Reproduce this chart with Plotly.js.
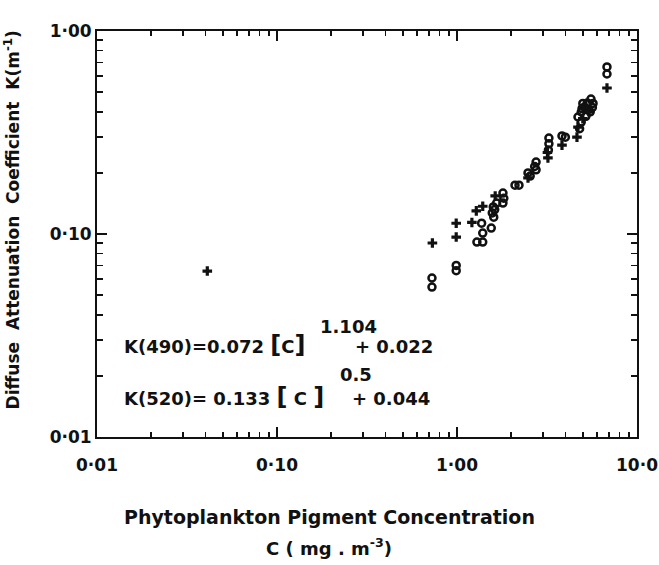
<!DOCTYPE html>
<html>
<head>
<meta charset="utf-8">
<script src="https://cdn.plot.ly/plotly-3.0.1.min.js"></script>
<style>html,body{margin:0;padding:0;background:#fff;}#chart{width:659px;height:565px;}</style>
</head>
<body>
<div id="chart"></div>
<script>
// Data (log-log)
var plusX = [0.041, 0.73, 0.99, 0.99, 1.21, 1.28, 1.39, 1.63, 2.48, 3.20, 3.18, 3.83, 4.64, 4.70, 5.00, 5.40, 6.81];
var plusY = [0.0657, 0.0903, 0.113, 0.0966, 0.114, 0.130, 0.137, 0.154, 0.189, 0.237, 0.252, 0.274, 0.300, 0.336, 0.370, 0.400, 0.524];

var circX = [0.726, 0.726, 0.99, 0.99, 1.37, 1.39, 1.29, 1.39, 1.55, 1.59, 1.57, 1.62, 1.66, 1.60, 1.80, 1.82, 1.80, 2.10, 2.21, 2.48, 2.55, 2.75, 2.75, 2.70, 3.24, 3.24, 3.22, 3.83, 4.00, 5.55, 5.30, 5.10, 4.95, 4.90, 4.70, 4.90, 5.20, 5.50, 5.65, 5.35, 5.00, 5.70, 4.80, 6.81, 6.81];
var circY = [0.0607, 0.0548, 0.0700, 0.0660, 0.113, 0.101, 0.0913, 0.0913, 0.107, 0.136, 0.127, 0.132, 0.142, 0.121, 0.159, 0.150, 0.142, 0.174, 0.174, 0.200, 0.193, 0.226, 0.207, 0.215, 0.297, 0.278, 0.259, 0.304, 0.300, 0.462, 0.442, 0.422, 0.415, 0.399, 0.377, 0.356, 0.380, 0.400, 0.420, 0.410, 0.440, 0.440, 0.330, 0.665, 0.614];

var xTickVals = [0.01, 0.1, 1, 10];
var xTickText = ["0·01", "0·10", "1·00", "10·0"];
var yTickVals = [0.01, 0.1, 1];
var yTickText = ["0·01", "0·10", "1·00"];

function minorVals(lo, hi) {
  var v = [];
  for (var d = lo; d < hi; d++) {
    for (var m = 2; m <= 9; m++) v.push(m * Math.pow(10, d));
  }
  return v;
}

var FONT = "DejaVu Sans, sans-serif";
var INK = "#111";

var traces = [
  {
    x: circX, y: circY, type: "scatter", mode: "markers", name: "circles",
    marker: {symbol: "circle-open", size: 7, color: INK, line: {width: 2.5, color: INK}}
  },
  {
    x: plusX, y: plusY, type: "scatter", mode: "markers", name: "crosses",
    marker: {symbol: "cross", size: 8, color: INK, line: {width: 0}}
  }
];

var axisCommon = {
  type: "log",
  showgrid: false,
  zeroline: false,
  showline: true,
  linecolor: INK,
  linewidth: 2,
  mirror: "allticks",
  ticks: "inside",
  ticklen: 10,
  tickwidth: 1.6,
  tickcolor: INK,
  tickmode: "array",
  tickfont: {family: FONT, size: 17, color: INK, weight: "bold"}
};

var BF = {family: FONT, size: 18, color: INK, weight: "bold"};

var layout = {
  width: 659, height: 565,
  margin: {l: 97, r: 22, t: 31, b: 128},
  paper_bgcolor: "#fff",
  plot_bgcolor: "#fff",
  showlegend: false,
  font: {family: FONT, color: INK},
  xaxis: Object.assign({}, axisCommon, {
    range: [-2, 1],
    tickvals: xTickVals, ticktext: xTickText,
    ticklabelstandoff: 12,
    minor: {tickmode: "array", tickvals: minorVals(-2, 1), ticks: "inside", ticklen: 5, tickwidth: 1.6, tickcolor: INK, showgrid: false}
  }),
  yaxis: Object.assign({}, axisCommon, {
    range: [-2, 0],
    tickvals: yTickVals, ticktext: yTickText,
    ticklabelstandoff: 0,
    minor: {tickmode: "array", tickvals: minorVals(-2, 0), ticks: "inside", ticklen: 6, tickwidth: 1.6, tickcolor: INK, showgrid: false}
  }),
  annotations: [
    {xref: "paper", yref: "paper", x: 0.43, y: -0.197, xanchor: "center", yanchor: "middle", showarrow: false,
     text: "Phytoplankton Pigment Concentration", font: {family: FONT, size: 19, color: INK, weight: "bold"}},
    {xref: "paper", yref: "paper", x: 0.43, y: -0.27, xanchor: "center", yanchor: "middle", showarrow: false,
     text: "C ( mg . m<sup>-3</sup>)", font: BF},
    {xref: "paper", yref: "paper", x: -0.157, y: 0.534, xanchor: "center", yanchor: "middle", showarrow: false, textangle: -90,
     text: "Diffuse  Attenuation  Coefficient  K(m<sup>-1</sup>)", font: {family: FONT, size: 17, color: INK, weight: "bold"}},
    {xref: "paper", yref: "paper", x: 0.046, y: 0.227, xanchor: "left", yanchor: "middle", showarrow: false,
     text: "K(490)=0.072 <span style='font-size:24px'>[</span>C<span style='font-size:24px'>]</span>", font: BF},
    {xref: "paper", yref: "paper", x: 0.409, y: 0.271, xanchor: "left", yanchor: "middle", showarrow: false,
     text: "1.104", font: BF},
    {xref: "paper", yref: "paper", x: 0.474, y: 0.222, xanchor: "left", yanchor: "middle", showarrow: false,
     text: "+ 0.022", font: BF},
    {xref: "paper", yref: "paper", x: 0.046, y: 0.0985, xanchor: "left", yanchor: "middle", showarrow: false,
     text: "K(520)= 0.133 <span style='font-size:24px'>[</span> C <span style='font-size:24px'>]</span>", font: BF},
    {xref: "paper", yref: "paper", x: 0.446, y: 0.153, xanchor: "left", yanchor: "middle", showarrow: false,
     text: "0.5", font: BF},
    {xref: "paper", yref: "paper", x: 0.469, y: 0.096, xanchor: "left", yanchor: "middle", showarrow: false,
     text: "+ 0.044", font: BF}
  ]
};

Plotly.newPlot("chart", traces, layout, {displayModeBar: false, staticPlot: true});
</script>
</body>
</html>
